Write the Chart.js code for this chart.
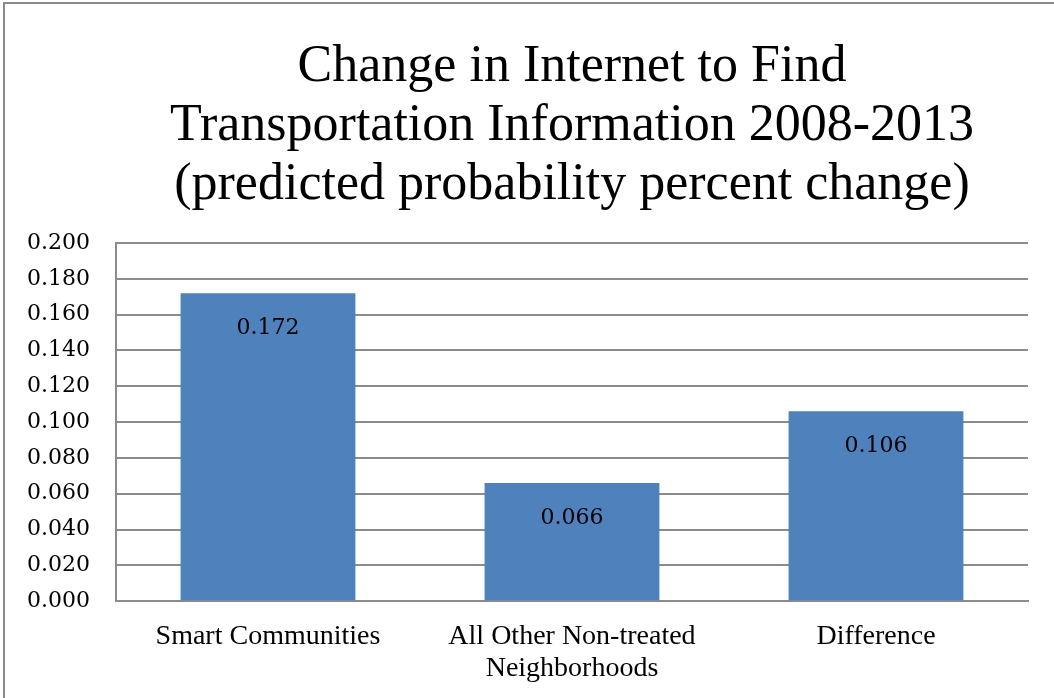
<!DOCTYPE html>
<html>
<head>
<meta charset="utf-8">
<script src="https://cdn.jsdelivr.net/npm/chart.js@4/dist/chart.umd.min.js"></script>
<style>
  html, body { margin: 0; padding: 0; background: #fff; }
  #wrap { width: 1054px; height: 698px; position: relative; }
</style>
</head>
<body>
<div id="wrap"><canvas id="c" width="1054" height="698"></canvas></div>
<script>
// Categories and values
const categories = ['Smart Communities', ['All Other Non-treated', 'Neighborhoods'], 'Difference'];
const values = [0.172, 0.066, 0.106];
const titleLines = [
  'Change in Internet to Find',
  'Transportation Information 2008-2013',
  '(predicted probability percent change)'
];
const yMin = 0;
const yMax = 0.2;
const yStep = 0.02;

const BAR_BLUE = '#4f81bd';
const GRID_GRAY = '#8c8c8c';

// Frame lines along the top and left edges of the picture
const framePlugin = {
  id: 'frame',
  beforeDraw(chart) {
    const ctx = chart.ctx;
    ctx.save();
    ctx.fillStyle = '#ffffff';
    ctx.fillRect(0, 0, chart.width, chart.height);
    ctx.strokeStyle = '#8a8a8a';
    ctx.lineWidth = 2;
    ctx.beginPath();
    ctx.moveTo(4, chart.height);
    ctx.lineTo(4, 3);
    ctx.lineTo(chart.width, 3);
    ctx.stroke();
    ctx.restore();
  }
};

// Value labels drawn inside each bar, near its top
const valueLabelPlugin = {
  id: 'valueLabels',
  afterDatasetsDraw(chart) {
    const ctx = chart.ctx;
    const meta = chart.getDatasetMeta(0);
    ctx.save();
    ctx.font = '22px "DejaVu Serif"';
    ctx.fillStyle = '#000000';
    ctx.textAlign = 'center';
    ctx.textBaseline = 'middle';
    meta.data.forEach((bar, i) => {
      const v = chart.data.datasets[0].data[i];
      ctx.fillText(v.toFixed(3), bar.x, bar.y + 35);
    });
    ctx.restore();
  }
};

new Chart(document.getElementById('c'), {
  type: 'bar',
  data: {
    labels: categories,
    datasets: [{
      data: values,
      backgroundColor: BAR_BLUE,
      borderWidth: 0,
      categoryPercentage: 1,
      barPercentage: 0.575
    }]
  },
  options: {
    responsive: false,
    animation: false,
    devicePixelRatio: 1,
    layout: { padding: { left: 1, right: 26, top: 38, bottom: -7 } },
    plugins: {
      legend: { display: false },
      tooltip: { enabled: false },
      title: {
        display: true,
        fullSize: false,
        text: titleLines,
        color: '#000000',
        font: { family: '"Liberation Serif"', size: 52, weight: 'normal', lineHeight: 1.135 },
        padding: { top: 0, bottom: 28 }
      }
    },
    scales: {
      x: {
        grid: { display: false, drawTicks: false },
        border: { display: true, color: GRID_GRAY, width: 2 },
        ticks: {
          color: '#000000',
          font: { family: '"Liberation Serif"', size: 28, lineHeight: 1.14 },
          padding: 20,
          maxRotation: 0,
          autoSkip: false
        }
      },
      y: {
        min: yMin,
        max: yMax,
        grid: { color: GRID_GRAY, lineWidth: 2, drawTicks: false },
        border: { display: true, color: GRID_GRAY, width: 2 },
        ticks: {
          stepSize: yStep,
          color: '#000000',
          font: { family: '"DejaVu Serif"', size: 22 },
          padding: 26,
          callback: (v) => Number(v).toFixed(3)
        }
      }
    }
  },
  plugins: [framePlugin, valueLabelPlugin]
});
</script>
</body>
</html>
